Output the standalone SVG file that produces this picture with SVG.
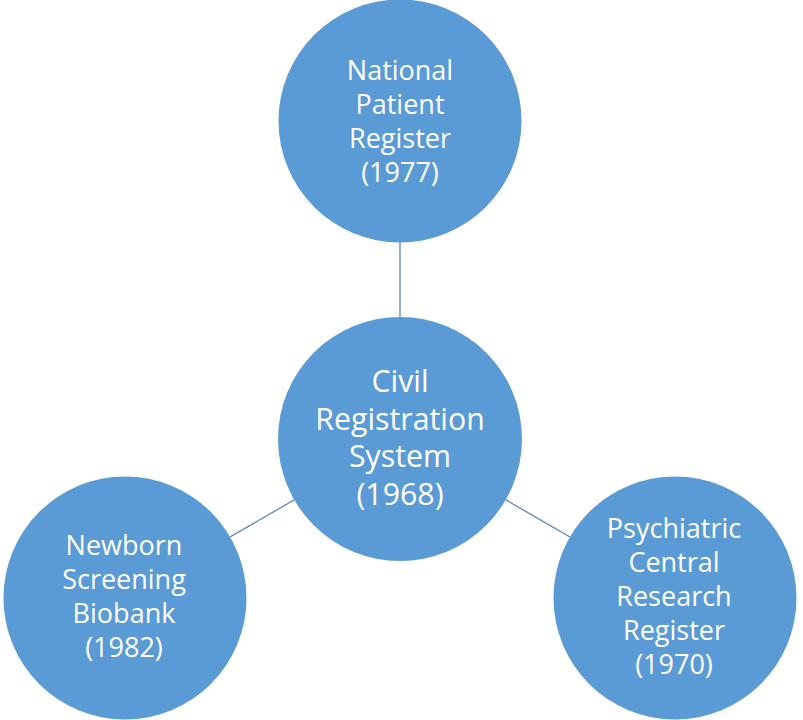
<svg xmlns="http://www.w3.org/2000/svg" width="803" height="720" viewBox="0 0 803 720">
<style>
.node{fill:#5B9BD5;}
.lbl{fill:#FFFFFF;font-family:"Open Sans","Liberation Sans",sans-serif;font-size:27px;text-anchor:middle;}
.big{font-size:30.3px;}
.conn{stroke:#4A7EBB;stroke-width:1.2;fill:none;}
</style>
<rect width="803" height="720" fill="#FFFFFF"/>
<g id="connectors">
<line class="conn" x1="400" y1="242" x2="400" y2="318"/>
<line class="conn" x1="230" y1="537" x2="294" y2="500"/>
<line class="conn" x1="506" y1="500" x2="570" y2="537"/>
</g>
<g id="node-national-patient-register">
<circle class="node" cx="400" cy="121" r="121.5"/>
<text class="lbl" x="400" y="80">National</text>
<text class="lbl" x="400" y="114">Patient</text>
<text class="lbl" x="400" y="148">Register</text>
<text class="lbl" x="400" y="182">(1977)</text>
</g>
<g id="node-civil-registration-system">
<circle class="node" cx="400" cy="439" r="122"/>
<text class="lbl big" x="400" y="392">Civil</text>
<text class="lbl big" x="400" y="430">Registration</text>
<text class="lbl big" x="400" y="467">System</text>
<text class="lbl big" x="400" y="505">(1968)</text>
</g>
<g id="node-newborn-screening-biobank">
<circle class="node" cx="125" cy="598" r="121.5"/>
<text class="lbl" x="124" y="555">Newborn</text>
<text class="lbl" x="124" y="589">Screening</text>
<text class="lbl" x="124" y="623">Biobank</text>
<text class="lbl" x="124" y="657">(1982)</text>
</g>
<g id="node-psychiatric-central-research-register">
<circle class="node" cx="675" cy="598" r="121.5"/>
<text class="lbl" x="674" y="538">Psychiatric</text>
<text class="lbl" x="674" y="572">Central</text>
<text class="lbl" x="674" y="606">Research</text>
<text class="lbl" x="674" y="640">Register</text>
<text class="lbl" x="674" y="674">(1970)</text>
</g>
</svg>
